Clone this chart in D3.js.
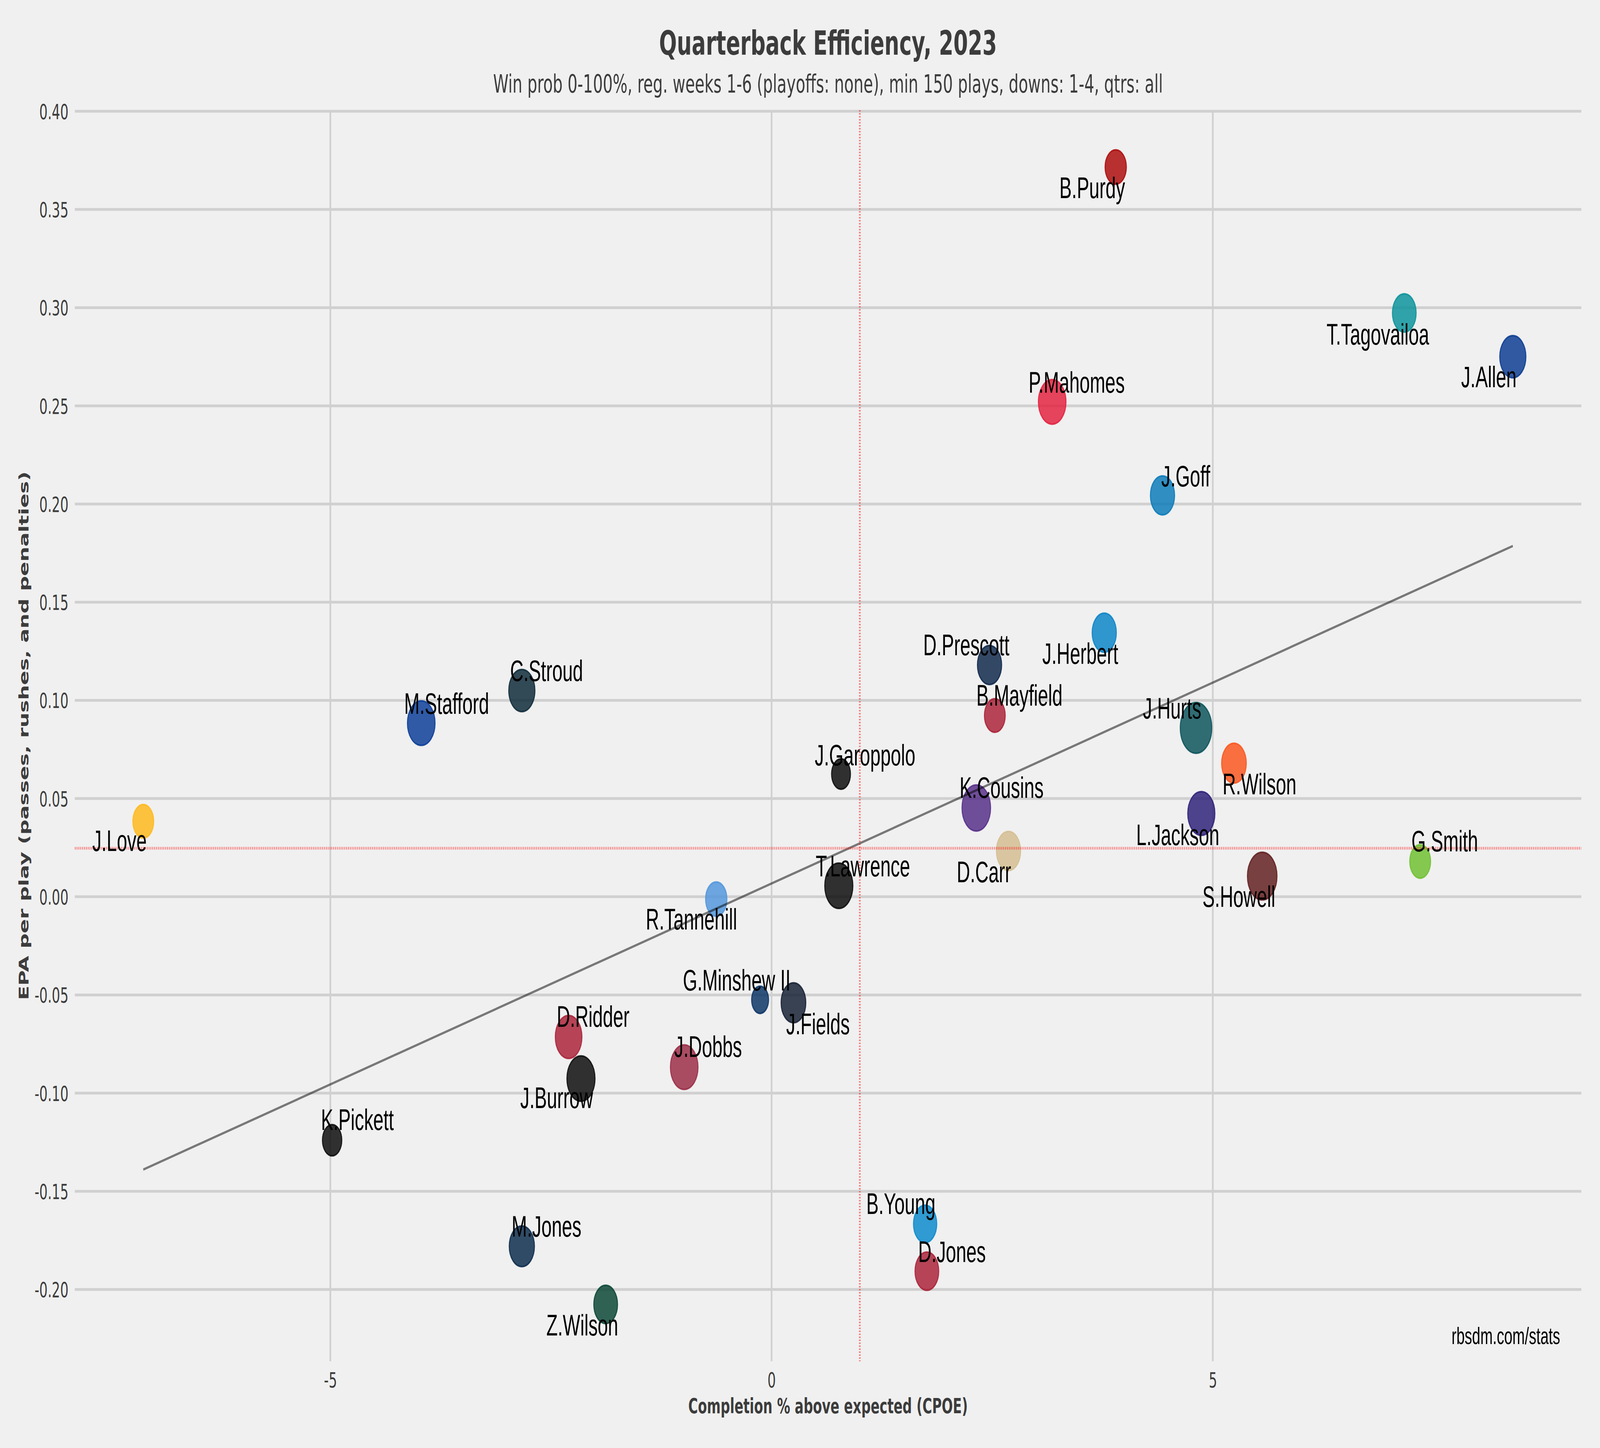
<!DOCTYPE html>
<html>
<head>
<meta charset="utf-8">
<script src="https://cdn.jsdelivr.net/npm/d3@7"></script>
<style>
  html, body { margin: 0; padding: 0; background: #f0f0f0; overflow: hidden; }
  svg { display: block; width: 100vw; height: 100vh; }
</style>
</head>
<body>
<svg id="chart"></svg>
<script>
// ---------------- DATA ----------------
const players = ["M.Stafford","C.Stroud","B.Purdy","T.Tagovailoa","J.Allen","P.Mahomes","J.Goff","J.Herbert","D.Prescott","B.Mayfield","J.Hurts","J.Love","R.Tannehill","G.Minshew II","J.Fields","D.Ridder","J.Dobbs","J.Burrow","K.Pickett","M.Jones","Z.Wilson","J.Garoppolo","K.Cousins","D.Carr","T.Lawrence","R.Wilson","L.Jackson","S.Howell","G.Smith","B.Young","D.Jones"];
const teams   = ["LA","HOU","SF","MIA","BUF","KC","DET","LAC","DAL","TB","PHI","GB","TEN","IND","CHI","ATL","ARI","CIN","PIT","NE","NYJ","LV","MIN","NO","JAX","DEN","BAL","WAS","SEA","CAR","NYG"];
const cpoe    = [-3.97,-2.83,3.90,7.17,8.40,3.18,4.43,3.77,2.47,2.53,4.81,-7.12,-0.627,-0.13,0.248,-2.30,-0.99,-2.16,-4.98,-2.83,-1.88,0.787,2.32,2.685,0.762,5.24,4.87,5.56,7.35,1.74,1.76];
const epaPlay = [0.0884,0.105,0.3716,0.2973,0.275,0.252,0.2044,0.1345,0.118,0.0923,0.086,0.0384,-0.0012,-0.0525,-0.054,-0.0714,-0.0868,-0.0926,-0.124,-0.178,-0.2076,0.0625,0.0452,0.0233,0.0056,0.068,0.0424,0.0105,0.018,-0.1666,-0.1907];
const plays   = [387,348,235,289,348,387,300,300,300,225,499,225,235,152,312,361,387,400,196,324,289,187,413,300,400,312,374,441,225,278,289];
const avgCpoe = 1.0;     // red dotted vertical reference
const avgEpa  = 0.0247;  // red dotted horizontal reference
const yTicks = [-0.20,-0.15,-0.10,-0.05,0.00,0.05,0.10,0.15,0.20,0.25,0.30,0.35,0.40];
const xTicks = [-5, 0, 5];
const titleText = "Quarterback Efficiency, 2023";
const subtitleText = "Win prob 0-100%, reg. weeks 1-6 (playoffs: none), min 150 plays, downs: 1-4, qtrs: all";
const xLabelText = "Completion % above expected (CPOE)";
const yLabelText = "EPA per play (passes, rushes, and penalties)";
const creditText = "rbsdm.com/stats";

// ---------------- STYLE / LAYOUT ----------------
const teamColors = {
  LA:"#003594", HOU:"#03202F", SF:"#AA0000", MIA:"#008E97", BUF:"#00338D", KC:"#E31837",
  DET:"#0076B6", LAC:"#0080C6", DAL:"#041E42", TB:"#A71930", PHI:"#004C54", GB:"#FFB612",
  TEN:"#4B92DB", IND:"#002C5F", CHI:"#0B162A", ATL:"#A71930", ARI:"#97233F", CIN:"#000000",
  PIT:"#000000", NE:"#002244", NYJ:"#003F2D", LV:"#000000", MIN:"#4F2683", NO:"#D3BC8D",
  JAX:"#000000", DEN:"#FB4F14", BAL:"#241773", WAS:"#5A1414", SEA:"#69BE28", CAR:"#0085CA",
  NYG:"#A71930"
};
// label offsets (pixels, from marker centre to text start / baseline)
const labelOffset = {
  "M.Stafford":[-70,-24], "C.Stroud":[-48,-24], "B.Purdy":[-232,79], "T.Tagovailoa":[-320,81],
  "J.Allen":[-213,78], "P.Mahomes":[-97,-24], "J.Goff":[-5,-23], "J.Herbert":[-255,80],
  "D.Prescott":[-273,-25], "B.Mayfield":[-76,-25], "J.Hurts":[-219,-24], "J.Love":[-210,76],
  "R.Tannehill":[-290,78], "G.Minshew II":[-318,-24], "J.Fields":[-30,81], "D.Ridder":[-49,-26],
  "J.Dobbs":[-41,-26], "J.Burrow":[-250,76], "K.Pickett":[-46,-26], "M.Jones":[-42,-25],
  "Z.Wilson":[-244,80], "J.Garoppolo":[-108,-22], "K.Cousins":[-69,-26], "D.Carr":[-213,80],
  "T.Lawrence":[-95,-24], "R.Wilson":[-47,80], "L.Jackson":[-268,81], "S.Howell":[-246,79],
  "G.Smith":[-36,-26], "B.Young":[-242,-25], "D.Jones":[-36,-24]
};

const W = 6588, H = 3706;
const plot = { left: 308, right: 6511, top: 282, bottom: 3484 };
const axisFont = "'DejaVu Sans', sans-serif";
const labelFont = "'Liberation Sans', Arial, Helvetica, sans-serif";
const textGray = "#3c3c3c";

// the drawing is made in a 6588x3706 frame and fills the whole window
const svg = d3.select("#chart")
  .attr("viewBox", `0 0 ${W} ${H}`)
  .attr("preserveAspectRatio", "none");
svg.append("rect").attr("width", W).attr("height", H).attr("fill", "#f0f0f0");

const rows = players.map((p, i) => ({ name: p, team: teams[i], x: cpoe[i], y: epaPlay[i], n: plays[i] }));

// matplotlib-like 5% autoscale margins
const xe = d3.extent(cpoe), ye = d3.extent(epaPlay);
const xPad = (xe[1] - xe[0]) * 0.05, yPad = (ye[1] - ye[0]) * 0.05;
const x = d3.scaleLinear().domain([xe[0] - xPad, xe[1] + xPad]).range([plot.left, plot.right]);
const y = d3.scaleLinear().domain([ye[0] - yPad, ye[1] + yPad]).range([plot.bottom, plot.top]);
const r = d3.scaleSqrt().domain([0, 100]).range([0, 30]); // outer radius = 3px * sqrt(plays)
const strokeW = 4;

// grid
const grid = svg.append("g");
grid.selectAll("line.h").data(yTicks).join("line")
  .attr("x1", plot.left).attr("x2", plot.right)
  .attr("y1", d => y(d)).attr("y2", d => y(d))
  .attr("stroke", "#d0d0d0").attr("stroke-width", 7);
grid.selectAll("line.v").data(xTicks).join("line")
  .attr("y1", plot.top).attr("y2", plot.bottom)
  .attr("x1", d => x(d)).attr("x2", d => x(d))
  .attr("stroke", "#d0d0d0").attr("stroke-width", 7);

// axes tick labels
const yAxis = d3.axisLeft(y).tickValues(yTicks).tickSize(0).tickPadding(0)
  .tickFormat(d => d.toFixed(2));
const gy = svg.append("g").attr("transform", `translate(${plot.left - 26},0)`).call(yAxis);
gy.select(".domain").remove();
gy.selectAll("text").attr("font-family", axisFont).attr("font-size", 54)
  .attr("fill", textGray).attr("dy", "0.36em").attr("x", 0);

const xAxis = d3.axisBottom(x).tickValues(xTicks).tickSize(0).tickPadding(0)
  .tickFormat(d => String(d));
const gx = svg.append("g").attr("transform", `translate(0,${plot.bottom})`).call(xAxis);
gx.select(".domain").remove();
gx.selectAll("text").attr("font-family", axisFont).attr("font-size", 54)
  .attr("fill", textGray).attr("dy", 0).attr("y", 67);

// markers
svg.append("g").selectAll("circle").data(rows).join("circle")
  .attr("cx", d => x(d.x)).attr("cy", d => y(d.y))
  .attr("r", d => r(d.n) - strokeW / 2)
  .attr("fill", d => teamColors[d.team]).attr("fill-opacity", 0.8)
  .attr("stroke", d => teamColors[d.team]).attr("stroke-opacity", 0.8)
  .attr("stroke-width", strokeW);

// regression line (OLS through data)
const mx = d3.mean(cpoe), my = d3.mean(epaPlay);
let sxy = 0, sxx = 0;
rows.forEach(d => { sxy += (d.x - mx) * (d.y - my); sxx += (d.x - mx) * (d.x - mx); });
const slope = sxy / sxx, intercept = my - slope * mx;
svg.append("line")
  .attr("x1", x(xe[0])).attr("y1", y(intercept + slope * xe[0]))
  .attr("x2", x(xe[1])).attr("y2", y(intercept + slope * xe[1]))
  .attr("stroke", "#000").attr("stroke-opacity", 0.5).attr("stroke-width", 6);

// reference lines
svg.append("line").attr("x1", x(avgCpoe)).attr("x2", x(avgCpoe))
  .attr("y1", plot.top).attr("y2", plot.bottom)
  .attr("stroke", "red").attr("stroke-opacity", 0.5).attr("stroke-width", 7)
  .attr("stroke-dasharray", "3.6 4");
svg.append("line").attr("y1", y(avgEpa)).attr("y2", y(avgEpa))
  .attr("x1", plot.left).attr("x2", plot.right)
  .attr("stroke", "red").attr("stroke-opacity", 0.5).attr("stroke-width", 7)
  .attr("stroke-dasharray", "3.6 4");

// player labels
svg.append("g").selectAll("text").data(rows).join("text")
  .attr("x", d => x(d.x) + labelOffset[d.name][0])
  .attr("y", d => y(d.y) + labelOffset[d.name][1])
  .attr("font-family", labelFont).attr("font-size", 76).attr("fill", "#000")
  .text(d => d.name);

// titles
const cx = (plot.left + plot.right) / 2;
svg.append("text").attr("x", cx).attr("y", 140).attr("text-anchor", "middle")
  .attr("font-family", axisFont).attr("font-weight", "bold").attr("font-size", 86)
  .attr("fill", textGray).text(titleText);
svg.append("text").attr("x", cx).attr("y", 237).attr("text-anchor", "middle")
  .attr("font-family", axisFont).attr("font-size", 64)
  .attr("fill", textGray).text(subtitleText);

// axis titles
svg.append("text").attr("x", cx).attr("y", 3617).attr("text-anchor", "middle")
  .attr("font-family", axisFont).attr("font-weight", "bold").attr("font-size", 54)
  .attr("fill", textGray).text(xLabelText);
svg.append("text").attr("transform", `translate(117,${(plot.top + plot.bottom) / 2}) rotate(-90)`)
  .attr("text-anchor", "middle")
  .attr("font-family", axisFont).attr("font-weight", "bold").attr("font-size", 54)
  .attr("fill", textGray).text(yLabelText);

// credit
svg.append("text").attr("x", 6424).attr("y", 3440).attr("text-anchor", "end")
  .attr("font-family", labelFont).attr("font-size", 61).attr("fill", "#000")
  .text(creditText);
</script>
</body>
</html>
